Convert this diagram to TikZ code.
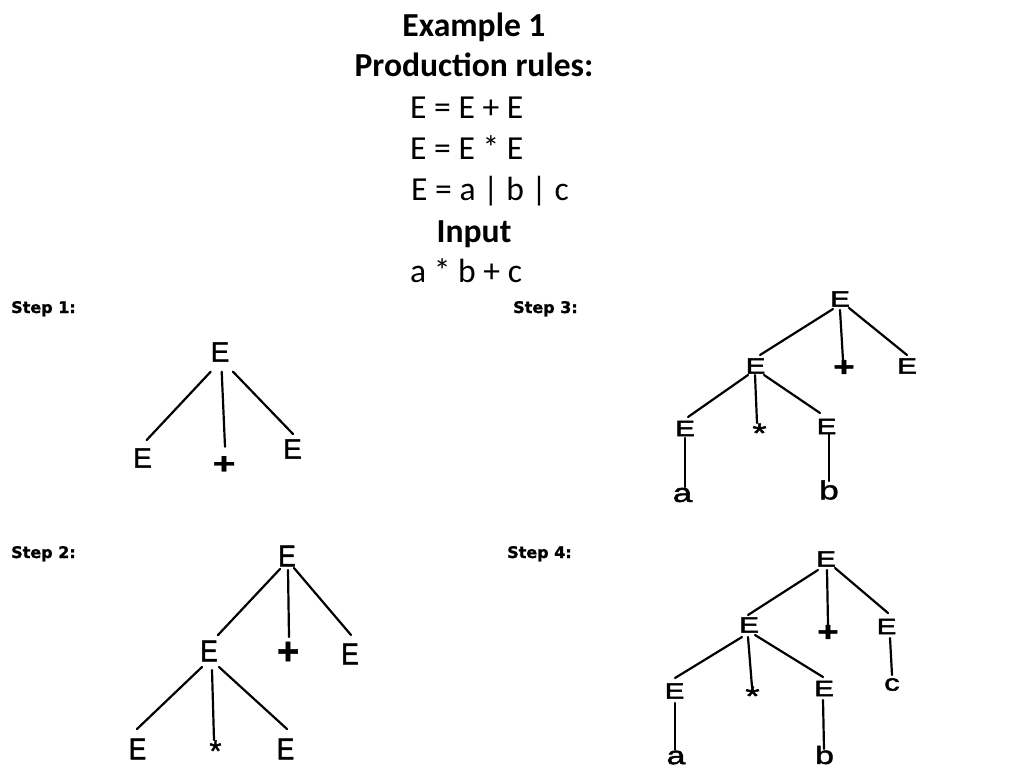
\documentclass[tikz,border=0pt]{standalone}
\usepackage{graphicx}
\usepackage{fontspec}
\setmainfont{Carlito}
\newfontfamily\stepfont[FakeBold=1.2]{DejaVu Sans}
\newfontfamily\treefont[FakeBold=1.2]{Liberation Sans}
\newfontfamily\narrowtree[FakeStretch=0.88,FakeBold=1.4]{Liberation Sans}
\newfontfamily\widetree[FakeStretch=1.35,FakeBold=2]{Liberation Sans}
\usetikzlibrary{calc}
\newcommand\treeedge[6]{\draw[treeline] ($(#1)+(#2,#3)$) -- ($(#4)+(#5,#6)$);}
\begin{document}
\begin{tikzpicture}[x=1pt,y=-1pt,
  titletext/.style={font=\fontsize{33.6}{40}\selectfont, inner sep=0},
  titlebold/.style={font=\bfseries\fontsize{33.6}{40}\selectfont, inner sep=0, anchor=base},
  steplabel/.style={font=\stepfont\bfseries\fontsize{16}{18}\selectfont, anchor=base west, inner sep=0},
  symA/.style={font=\treefont\fontsize{28}{28}\selectfont, inner sep=0},
  symB/.style={font=\narrowtree\fontsize{30}{30}\selectfont, inner sep=0},
  symC/.style={font=\widetree\fontsize{22}{22}\selectfont, inner sep=0},
  treeline/.style={line width=2.2pt, line cap=round}]
\fill[white] (0,0) rectangle (1024,768);
\useasboundingbox (0,0) rectangle (1024,768);

% title block
\node[titlebold] (t1) at (474,37) {Example 1};
\node[titlebold] (t2) at (474,77) {Production rules:};
\node[titletext, anchor=base west] (t3) at (410,118) {E = E + E};
\node[titletext, anchor=base west] (t4) at (410,159) {E = E * E};
\node[titletext, anchor=base west] (t5) at (411,200) {E = a | b | c};
\node[titlebold] (t6) at (474,242) {Input};
\node[titletext, anchor=base west] (t7) at (410,282) {a * b + c};

% step labels
\node[steplabel] (s1) at (11,313) {Step 1:};
\node[steplabel] (s3) at (513,313) {Step 3:};
\node[steplabel] (s2) at (11,558) {Step 2:};
\node[steplabel] (s4) at (507,558) {Step 4:};

% tree 1
\node[symA] (a1) at (220,352) {E};
\node[symA] (a2) at (142.5,458) {E};
\node[symA, font=\treefont\bfseries\fontsize{30}{30}\selectfont] (a3) at (224,465) {\scalebox{1.3}[1]{+}};
\node[symA] (a4) at (292.5,449) {E};
\treeedge{a1}{-9.3}{19.7}{a2}{4.2}{-18}
\treeedge{a1}{1.7}{19.7}{a3}{1}{-18.3}
\treeedge{a1}{13}{19.7}{a4}{0.5}{-15}

% tree 2
\node[symB] (b1) at (287,556) {E};
\node[symB] (b2) at (209,651) {E};
\node[symA, font=\treefont\bfseries\fontsize{38}{38}\selectfont] (b3) at (288,653) {+};
\node[symB] (b4) at (350,654) {E};
\node[symB] (b5) at (137.5,749) {E};
\node[symA, font=\treefont\fontsize{31}{31}\selectfont] (b6) at (215.5,751) {*};
\node[symB] (b7) at (285.5,749) {E};
\treeedge{b1}{-7}{13}{b2}{9}{-16}
\treeedge{b1}{1}{14}{b3}{1}{-16}
\treeedge{b1}{7}{12}{b4}{1}{-19}
\treeedge{b2}{-7}{16}{b5}{-0.5}{-20}
\treeedge{b2}{3}{19}{b6}{-1.5}{-11}
\treeedge{b2}{10}{16}{b7}{1.5}{-20}

% tree 3
\node[symC] (c1) at (840,299) {E};
\node[symC] (c2) at (755.5,366) {E};
\node[symC, font=\widetree\bfseries\fontsize{27}{27}\selectfont] (c3) at (844,368) {+};
\node[symC] (c4) at (907,366) {E};
\node[symC] (c5) at (685,428.5) {E};
\node[symC, font=\widetree\fontsize{27}{27}\selectfont] (c6) at (759.5,433) {*};
\node[symC] (c7) at (826.5,426.5) {E};
\node[symC, font=\widetree\fontsize{26}{26}\selectfont] (c8) at (682.5,495) {a};
\node[symC, font=\widetree\fontsize{26}{26}\selectfont] (c9) at (829,490) {b};
\treeedge{c1}{-7}{10}{c2}{4.5}{-11}
\treeedge{c1}{0}{11}{c3}{-1}{-8}
\treeedge{c1}{9}{9}{c4}{0}{-11}
\treeedge{c2}{-7.5}{9}{c5}{3}{-11.5}
\treeedge{c2}{-0.5}{9}{c6}{-2.5}{-10}
\treeedge{c2}{8.5}{9}{c7}{-6.5}{-13.5}
\treeedge{c5}{0}{9.5}{c8}{2.5}{-8}
\treeedge{c7}{2.5}{7.5}{c9}{0}{-9}

% tree 4
\node[symC] (d1) at (826,559) {E};
\node[symC] (d2) at (749,625) {E};
\node[symC, font=\widetree\bfseries\fontsize{27}{27}\selectfont] (d3) at (828,633) {+};
\node[symC] (d4) at (886.5,626.5) {E};
\node[symC] (d5) at (674.5,691) {E};
\node[symC, font=\widetree\fontsize{27}{27}\selectfont] (d6) at (752.5,696) {*};
\node[symC] (d7) at (824,688.5) {E};
\node[symC, font=\widetree\fontsize{23}{23}\selectfont] (d8) at (892,684.5) {c};
\node[symC, font=\widetree\fontsize{25}{25}\selectfont] (d9) at (676,757.5) {a};
\node[symC, font=\widetree\fontsize{25}{25}\selectfont] (d10) at (824.5,755) {b};
\treeedge{d1}{-8}{11}{d2}{-1}{-10}
\treeedge{d1}{1}{11}{d3}{0}{-8}
\treeedge{d1}{9}{9}{d4}{1.5}{-13.5}
\treeedge{d2}{-7}{12}{d5}{0.5}{-13}
\treeedge{d2}{-1}{12}{d6}{-0.5}{-9}
\treeedge{d2}{6}{10}{d7}{-1}{-11.5}
\treeedge{d5}{0.5}{12}{d9}{-1}{-8}
\treeedge{d7}{-1}{11.5}{d10}{-0.5}{-6}
\treeedge{d4}{3.5}{11.5}{d8}{0}{-9.5}
\end{tikzpicture}
\end{document}
